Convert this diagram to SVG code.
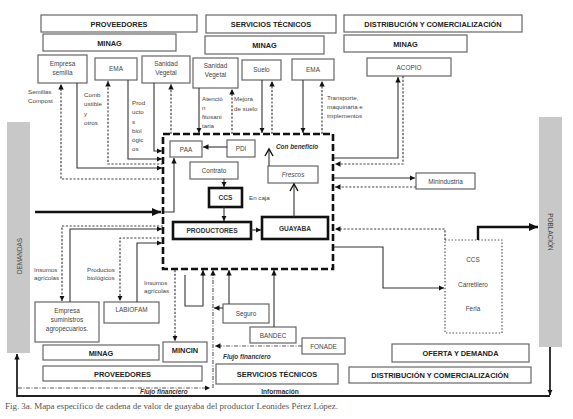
<svg xmlns="http://www.w3.org/2000/svg" width="573" height="419" viewBox="0 0 573 419">
<style>
.bx{fill:#fff;stroke:#666;stroke-width:1.2}
.tk{fill:#fff;stroke:#111;stroke-width:2.6}
.ht{font-family:"Liberation Sans",Arial,sans-serif;font-weight:bold;font-size:7.4px;fill:#222;text-anchor:middle}
.t{font-family:"Liberation Sans",Arial,sans-serif;font-size:6.4px;fill:#444;text-anchor:middle}
.tb{font-family:"Liberation Sans",Arial,sans-serif;font-size:6.6px;font-weight:bold;fill:#333;text-anchor:middle}
.lb{font-family:"Liberation Sans",Arial,sans-serif;font-size:6.2px;fill:#444}
.it{font-family:"Liberation Sans",Arial,sans-serif;font-size:6.4px;font-style:italic;font-weight:bold;fill:#333}
.sol{fill:none;stroke:#333;stroke-width:1.1}
.dot{fill:none;stroke:#444;stroke-width:1.2;stroke-dasharray:2.2,1.6}
.dd{fill:none;stroke:#555;stroke-width:1.1;stroke-dasharray:4,1.5,1,1.5}
.thk{fill:none;stroke:#111;stroke-width:2.4}
</style>
<defs>
<marker id="a" markerUnits="userSpaceOnUse" markerWidth="6" markerHeight="6" refX="5.5" refY="3" orient="auto"><path d="M0,0.3 L5.5,3 L0,5.7z" fill="#111"/></marker>
<marker id="ab" markerUnits="userSpaceOnUse" markerWidth="10" markerHeight="10" refX="9" refY="5" orient="auto"><path d="M0,1 L9,5 L0,9z" fill="#111"/></marker>
<marker id="c" markerUnits="userSpaceOnUse" markerWidth="10" markerHeight="10" refX="8" refY="5" orient="auto"><path d="M1,1 L8,5 L1,9" fill="none" stroke="#111" stroke-width="1.4"/></marker>
</defs>
<rect width="573" height="419" fill="#fff"/>

<!-- side bars -->
<g id="demandas"><rect x="7" y="122" width="23" height="231" fill="#c8c8c8"/><text class="t" transform="translate(21.5,256) rotate(-90)">DEMANDAS</text></g>
<g id="poblacion"><rect x="539" y="117" width="23" height="230" fill="#c8c8c8"/><text class="t" transform="translate(548,232) rotate(90)">POBLACIÓN</text></g>

<!-- header rows -->
<g id="h-proveedores"><rect class="bx" x="41" y="15" width="156" height="17"/><text class="ht" x="119" y="26.5">PROVEEDORES</text></g>
<g id="h-servicios"><rect class="bx" x="206" y="15" width="130" height="18"/><text class="ht" x="271" y="27">SERVICIOS TÉCNICOS</text></g>
<g id="h-distribucion"><rect class="bx" x="344" y="15" width="178" height="17"/><text class="ht" x="433" y="26.5">DISTRIBUCIÓN Y COMERCIALIZACIÓN</text></g>
<g id="minag-1"><rect class="bx" x="43" y="34" width="133" height="17"/><text class="ht" x="109.5" y="45.5">MINAG</text></g>
<g id="minag-2"><rect class="bx" x="205" y="36" width="119" height="18"/><text class="ht" x="264.5" y="48">MINAG</text></g>
<g id="minag-3"><rect class="bx" x="344" y="35" width="123" height="17"/><text class="ht" x="405.5" y="46.5">MINAG</text></g>

<!-- supplier boxes -->
<g id="empresa-semilla"><rect class="bx" x="38" y="55" width="49" height="28"/><text class="t" x="62.5" y="66">Empresa</text><text class="t" x="62.5" y="75">semilla</text></g>
<g id="ema-1"><rect class="bx" x="95" y="58" width="42" height="22"/><text class="t" x="116" y="71">EMA</text></g>
<g id="sanidad-1"><rect class="bx" x="142" y="56" width="48" height="27"/><text class="t" x="166" y="66">Sanidad</text><text class="t" x="166" y="75">Vegetal</text></g>
<g id="sanidad-2"><rect class="bx" x="193" y="58" width="45" height="30"/><text class="t" x="215.5" y="68">Sanidad</text><text class="t" x="215.5" y="77">Vegetal</text></g>
<g id="suelo"><rect class="bx" x="242" y="60" width="39" height="20"/><text class="t" x="261.5" y="72">Suelo</text></g>
<g id="ema-2"><rect class="bx" x="292" y="59" width="42" height="21"/><text class="t" x="313" y="72">EMA</text></g>
<g id="acopio"><rect class="bx" x="367" y="58" width="84" height="18"/><text class="t" x="409" y="69.5">ACOPIO</text></g>

<!-- central dashed box -->
<g id="cadena"><rect x="163" y="134" width="170" height="135" fill="none" stroke="#111" stroke-width="2.6" stroke-dasharray="7,3"/></g>
<g id="paa"><rect class="bx" x="170" y="141" width="32" height="16"/><text class="t" x="186" y="151.5">PAA</text></g>
<g id="pdi"><rect class="bx" x="227" y="140" width="28" height="17"/><text class="t" x="241" y="151">PDI</text></g>
<g id="contrato"><rect class="bx" x="190" y="162" width="48" height="17"/><text class="t" x="214" y="173">Contrato</text></g>
<g id="ccs"><rect class="tk" x="209" y="188" width="33" height="19"/><text class="tb" x="225.5" y="200">CCS</text></g>
<g id="productores"><rect class="tk" x="173" y="222" width="78" height="17"/><text class="tb" x="212" y="233">PRODUCTORES</text></g>
<g id="guayaba"><rect class="tk" x="262" y="217" width="66" height="22"/><text class="tb" x="295" y="230.5">GUAYABA</text></g>
<g id="frescos"><rect class="bx" x="268" y="166" width="50" height="17"/><text class="t" x="293" y="177" font-style="italic">Frescos</text></g>

<!-- right boxes -->
<g id="minindustria"><rect class="bx" x="416" y="173" width="59" height="16"/><text class="t" x="445.5" y="183.5">Minindustria</text></g>
<g id="venta"><rect x="445" y="240" width="57" height="93" fill="none" stroke="#555" stroke-width="1.2" stroke-dasharray="1.5,1.8"/><text class="t" x="473" y="262">CCS</text><text class="t" x="473" y="287">Carretilero</text><text class="t" x="473" y="311">Feria</text></g>

<!-- bottom boxes -->
<g id="empresa-suministros"><rect class="bx" x="35" y="302" width="64" height="40"/><text class="t" x="67" y="313">Empresa</text><text class="t" x="67" y="322">suministros</text><text class="t" x="67" y="331">agropecuarios.</text></g>
<g id="labiofam"><rect class="bx" x="104" y="302" width="55" height="21"/><text class="t" x="131.5" y="312">LABIOFAM</text></g>
<g id="mincin"><rect class="bx" x="163" y="342" width="44" height="20"/><text class="ht" x="185" y="352.5">MINCIN</text></g>
<g id="seguro"><rect class="bx" x="223" y="304" width="46" height="19"/><text class="t" x="246" y="316">Seguro</text></g>
<g id="bandec"><rect class="bx" x="250" y="327" width="46" height="16"/><text class="t" x="273" y="337.5">BANDEC</text></g>
<g id="fonade"><rect class="bx" x="302" y="338" width="43" height="16"/><text class="t" x="323.5" y="348.5">FONADE</text></g>
<g id="oferta-demanda"><rect class="bx" x="392" y="344" width="137" height="18"/><text class="ht" x="460.5" y="355.5">OFERTA Y DEMANDA</text></g>
<g id="minag-4"><rect class="bx" x="43" y="345" width="116" height="15"/><text class="ht" x="101" y="355.5">MINAG</text></g>
<g id="b-proveedores"><rect class="bx" x="43" y="366" width="159" height="15"/><text class="ht" x="122.5" y="376.5">PROVEEDORES</text></g>
<g id="b-servicios"><rect class="bx" x="216" y="364" width="122" height="20"/><text class="ht" x="277" y="376.5">SERVICIOS TÉCNICOS</text></g>
<g id="b-distribucion"><rect class="bx" x="349" y="367" width="182" height="16"/><text class="ht" x="440" y="378">DISTRIBUCIÓN Y COMERCIALIZACIÓN</text></g>

<!-- connectors -->
<g id="connectors">
<path class="dot" d="M163,179 H61 V84" marker-end="url(#a)"/>
<path class="sol" d="M77,83 V168 H162" marker-end="url(#a)"/>
<path class="dot" d="M163,164 H108 V81" marker-end="url(#a)"/>
<path class="sol" d="M128,80 V159 H162" marker-end="url(#a)"/>
<path class="sol" d="M154,83 V151 H162" marker-end="url(#a)"/>
<path class="dot" d="M171,134 V84" marker-end="url(#a)"/>
<path class="sol" d="M199,88 V133" marker-end="url(#a)"/>
<path class="dot" d="M232,134 V89" marker-end="url(#a)"/>
<path class="sol" d="M262,80 V133" marker-end="url(#a)"/>
<path class="dot" d="M272,134 V81" marker-end="url(#a)"/>
<path class="sol" d="M303,80 V133" marker-end="url(#a)"/>
<path class="dot" d="M322,134 V81" marker-end="url(#a)"/>
<path class="sol" d="M334,158 H398 V77" marker-end="url(#a)"/>
<path class="dot" d="M403,76 V164 H335" marker-end="url(#a)"/>
<path class="sol" d="M334,178 H415" marker-end="url(#a)"/>
<path class="dot" d="M416,187 H335" marker-end="url(#a)"/>
<path class="dot" d="M445,240 V229 H335" marker-end="url(#a)"/>
<path class="sol" d="M334,247 H383 V288 H444" marker-end="url(#a)"/>
<path class="thk" d="M478,240 V227 H538" marker-end="url(#ab)"/>
<path class="thk" d="M35,212 H161" marker-end="url(#ab)"/>
<path class="sol" d="M164,212 H174 V158" marker-end="url(#a)"/>
<path class="dot" d="M163,226 H62 V301" marker-end="url(#a)"/>
<path class="sol" d="M70,302 V229 H162" marker-end="url(#a)"/>
<path class="dot" d="M163,238 H120 V301" marker-end="url(#a)"/>
<path class="sol" d="M137,302 V243 H162" marker-end="url(#a)"/>
<path class="dot" d="M175,270 V341" marker-end="url(#a)"/>
<path class="sol" d="M185,275 V306 H203 V270" marker-end="url(#a)"/>
<path class="sol" d="M229,304 V270" marker-end="url(#a)"/>
<path class="sol" d="M274,327 V270" marker-end="url(#a)"/>
<path class="sol" d="M223,308 H214" marker-end="url(#a)"/>
<path class="dd" d="M302,346 H215" marker-end="url(#a)"/>
<path class="dd" d="M18,388 H210" marker-end="url(#a)"/>
<path class="dd" d="M213,388 V270" marker-end="url(#a)"/>
<path fill="none" stroke="#222" stroke-width="1.8" d="M550,347 V395" marker-end="url(#a)"/>
<path fill="none" stroke="#222" stroke-width="1.8" d="M550,396 H17 V354" marker-end="url(#a)"/>
<path class="sol" d="M227,147 H203" marker-end="url(#a)"/>
<path class="sol" d="M224,179 V187" marker-end="url(#a)"/>
<path class="sol" d="M224,207 V221" marker-end="url(#a)"/>
<path class="sol" d="M251,230 H261" marker-end="url(#a)"/>
<path class="sol" stroke-width="1.4" d="M294,217 V184" marker-end="url(#c)"/>
<path class="sol" d="M269,166 V149" marker-end="url(#c)"/>
</g>

<!-- labels -->
<g id="labels">
<text class="lb" x="28" y="94">Semillas</text><text class="lb" x="28" y="103">Compost</text>
<text class="lb" x="84" y="97">Comb</text><text class="lb" x="84" y="106">ustible</text><text class="lb" x="84" y="116">y</text><text class="lb" x="84" y="125">otros</text>
<text class="lb" x="132" y="105">Prod</text><text class="lb" x="132" y="114">ucto</text><text class="lb" x="132" y="124">s</text><text class="lb" x="132" y="133">biol</text><text class="lb" x="132" y="142">ógic</text><text class="lb" x="132" y="151">os</text>
<text class="lb" x="202" y="101">Atenció</text><text class="lb" x="202" y="110">n</text><text class="lb" x="202" y="119">fitosani</text><text class="lb" x="202" y="128">taria</text>
<text class="lb" x="234" y="101">Mejora</text><text class="lb" x="234" y="111">de suelo</text>
<text class="lb" x="327" y="100">Transporte,</text><text class="lb" x="327" y="109">maquinaria e</text><text class="lb" x="327" y="118">implementos</text>
<text class="it" x="276" y="149">Con beneficio</text>
<text class="lb" x="249" y="200">En caja</text>
<text class="lb" x="34" y="272">Insumos</text><text class="lb" x="34" y="280">agrícolas</text>
<text class="lb" x="87" y="272">Productos</text><text class="lb" x="87" y="280">biológicos</text>
<text class="lb" x="144" y="285">Insumos</text><text class="lb" x="144" y="293">agrícolas</text>
<text class="it" x="223" y="359">Flujo financiero</text>
<text class="it" x="140" y="394">Flujo financiero</text>
<text class="tb" x="280" y="394">Información</text>
<text x="5" y="408.5" font-family="'Liberation Serif','Times New Roman',serif" font-size="9" fill="#555" textLength="333">Fig. 3a. Mapa específico de cadena de valor de guayaba del productor Leonides Pérez López.</text>
</g>
</svg>
